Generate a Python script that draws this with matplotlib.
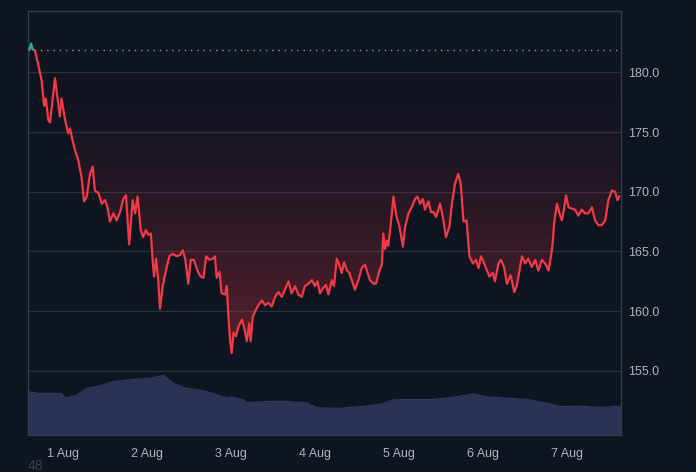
import numpy as np
import pandas as pd
import matplotlib
matplotlib.use("Agg")
import matplotlib.pyplot as plt
import matplotlib.dates as mdates
from matplotlib.patches import Polygon, Rectangle
from matplotlib.colors import ListedColormap

# ---------------- data ----------------
start_date = "2024-08-01"
baseline_price = 181.9

price_hours = [
    -9.6, -9.1, -8.7, -8.0, -7.1, -6.1, -5.4, -4.9, -4.2, -3.7, -3.2, -2.3, -1.6, -0.9, -0.4,
    0.6, 1.5, 2.0, 2.5, 3.4, 4.4, 4.9, 5.3, 6.0, 6.8, 7.7, 8.5, 9.1, 10.1, 11.1, 12.0, 12.7,
    13.4, 14.4, 15.3, 16.3, 17.2, 18.0, 18.9, 19.9, 20.6, 21.3, 22.2, 22.9, 23.7, 24.4, 25.1,
    25.6, 26.0, 26.6, 27.2, 27.7, 28.5, 29.4, 30.4, 31.3, 32.5, 33.4, 34.2, 34.9, 35.8, 36.5,
    37.4, 38.4, 39.3, 40.1, 40.9, 41.8, 42.8, 43.4, 43.9, 44.7, 45.3, 46.3, 46.8, 47.2, 47.7,
    48.2, 48.7, 49.4, 50.1, 51.1, 51.7, 52.5, 53.2, 53.6, 54.2, 54.9, 55.8, 56.8, 57.7, 58.7,
    59.6, 60.6, 61.5, 62.5, 63.4, 64.4, 65.3, 66.3, 67.2, 68.2, 69.1, 70.1, 71.1, 72.0, 72.7,
    73.4, 74.2, 75.1, 75.8, 76.8, 77.4, 78.2, 78.9, 79.6, 80.3, 81.1, 81.8, 82.5, 83.4, 84.4,
    85.3, 86.3, 86.9, 87.7, 88.7, 89.4, 90.4, 91.1, 91.5, 92.0, 92.5, 92.9, 93.6, 94.4, 95.2,
    96.1, 97.1, 97.7, 98.7, 99.6, 100.6, 101.2, 102.0, 102.8, 103.4, 104.4, 105.1, 105.8,
    106.6, 107.7, 108.5, 109.4, 110.4, 111.1, 112.0, 112.9, 113.6, 114.4, 115.3, 116.1, 117.1,
    118.0, 118.7, 119.4, 120.3, 121.1, 121.8, 122.8, 123.4, 124.4, 125.1, 126.0, 126.8, 127.9,
    128.9, 129.6, 130.4, 131.1, 132.0, 132.9, 133.9, 134.9, 135.8, 136.8, 137.7, 138.7, 139.3,
    139.9, 140.3, 141.1, 141.8, 142.5, 143.1, 143.7, 144.4, 145.3, 146.3, 147.2, 148.2, 149.1,
    150.1, 151.1, 152.0, 152.9, 153.9, 154.9, 155.8, 156.8, 157.7, 158.4, 158.9,
]
price_values = [
    181.9, 182.4, 181.95, 181.8, 180.7, 179.3, 177.2, 177.8, 176.0, 175.8, 177.1, 179.5, 177.9, 176.3, 177.8,
    176.0, 174.9, 175.3, 174.6, 173.5, 172.6, 171.8, 171.2, 169.2, 169.6, 171.5, 172.1, 170.1, 169.9, 169.0, 169.3, 168.7,
    167.5, 168.2, 167.6, 168.3, 169.4, 169.7, 165.6, 169.3, 168.2, 169.6, 166.8, 166.2, 166.8, 166.4, 166.5,
    164.3, 162.9, 164.4, 162.6, 160.2, 162.1, 163.4, 164.6, 164.8, 164.6, 164.7, 165.1, 164.4, 162.3, 164.3,
    164.3, 163.4, 162.9, 162.8, 164.6, 164.3, 164.4, 164.6, 162.8, 163.3, 161.5, 161.4, 162.1, 159.8, 157.6,
    156.5, 158.2, 157.9, 158.7, 159.3, 158.7, 157.5, 159.0, 157.5, 159.5, 160.0, 160.5, 160.9, 160.5, 160.7,
    160.4, 161.2, 161.6, 161.2, 161.8, 162.5, 161.5, 162.1, 161.4, 161.2, 162.1, 162.3, 162.6, 162.1, 162.5,
    161.5, 161.9, 162.2, 161.4, 162.6, 162.1, 164.4, 163.9, 163.2, 164.1, 163.4, 163.2, 162.6, 161.8, 162.6,
    163.6, 163.9, 163.3, 162.6, 162.3, 162.3, 163.4, 163.9, 166.5, 165.2, 165.9, 165.5, 167.2, 169.6, 168.0,
    167.1, 165.4, 167.0, 168.2, 168.7, 169.4, 169.6, 169.0, 169.4, 168.5, 169.2, 168.3, 168.3,
    167.9, 169.0, 167.9, 166.2, 167.1, 169.0, 170.7, 171.5, 170.7, 167.5, 167.6, 164.6, 164.0,
    164.3, 163.6, 164.6, 164.0, 163.4, 162.9, 163.2, 162.5, 164.0, 164.3, 163.7, 162.3, 163.0,
    161.6, 162.1, 163.4, 164.6, 164.0, 164.4, 163.7, 164.3, 163.4, 164.3, 164.0, 163.4, 164.4,
    165.7, 167.4, 169.0, 168.2, 167.6, 168.5, 169.7, 168.7, 168.6, 168.5, 168.0, 168.5, 168.2,
    168.2, 168.7, 167.6, 167.2, 167.2, 167.6, 169.3, 170.1, 170.0, 169.3, 169.6,
]

volume_hours = [
    -10.0, -6.6, -0.4, 0.6, 3.9, 6.8, 10.6, 14.4, 20.1, 24.9, 28.7, 31.5, 35.3, 39.1, 42.9,
    46.8, 48.2, 51.5, 52.5, 58.2, 63.9, 69.6, 72.5, 79.1, 84.9, 90.6, 94.4, 100.1, 105.8,
    111.5, 117.2, 121.1, 126.8, 132.5, 138.2, 142.0, 147.7, 153.4, 159.4,
]
volume_values = [
    10.2, 9.8, 9.8, 8.7, 9.4, 11.0, 11.6, 12.6, 13.1, 13.4, 14.1, 12.2, 11.0, 10.6, 9.8,
    8.7, 9.0, 8.3, 7.6, 7.9, 7.9, 7.6, 6.4, 6.3, 6.7, 7.2, 8.3, 8.4, 8.4,
    8.9, 9.7, 9.0, 8.7, 8.4, 7.5, 6.7, 6.8, 6.5, 6.8,
]

y_ticks = [155, 160, 165, 170, 175, 180]
x_tick_days = ["2024-08-01", "2024-08-02", "2024-08-03", "2024-08-04",
               "2024-08-05", "2024-08-06", "2024-08-07"]

# ---------------- styling ----------------
BG = "#0e1420"
GRID = "#2a303d"
SPINE = "#363c49"
TEXT = "#aeb3be"
RED = "#f03a47"
GREEN = "#26b39a"
VOL = "#2b3254"

plt.rcParams["font.family"] = ["Liberation Sans", "DejaVu Sans"]

t0 = pd.Timestamp(start_date)
tx = mdates.date2num(t0 + pd.to_timedelta(price_hours, unit="h"))
px = np.array(price_values)
vx = mdates.date2num(t0 + pd.to_timedelta(volume_hours, unit="h"))
vv = np.array(volume_values)

xmin = mdates.date2num(t0 + pd.Timedelta(hours=-10.0))
xmax = mdates.date2num(t0 + pd.Timedelta(hours=159.4))
ymin, ymax = 149.64, 185.13

fig = plt.figure(figsize=(6.96, 4.72), dpi=100, facecolor=BG)
ax = fig.add_axes([28 / 696, 37 / 472, 593 / 696, 424 / 472])
ax.set_facecolor(BG)

# volume on twin axis
axv = ax.twinx()
axv.set_ylim(0, 100)
axv.fill_between(vx, 0, vv, color=VOL, lw=0, zorder=1)
axv.plot(vx, vv, color="#323a60", lw=0.8, zorder=1)
axv.set_yticks([])
for s in axv.spines.values():
    s.set_visible(False)
axv.set_zorder(0)
ax.set_zorder(1)
ax.patch.set_visible(False)
axv.patch.set_facecolor(BG)

ax.set_xlim(xmin, xmax)
ax.set_ylim(ymin, ymax)
axv.set_xlim(xmin, xmax)

# grid
for y in y_ticks:
    ax.axhline(y, color=GRID, lw=1.0, zorder=0.5)

# gradient fill between baseline and price (below baseline): faint at baseline, stronger lower down
f = np.linspace(0, 1, 256)
rgba = np.zeros((256, 4))
rgba[:, 0], rgba[:, 1], rgba[:, 2] = 0.94, 0.23, 0.28
rgba[:, 3] = 0.33 * f ** 1.5
cmap = ListedColormap(rgba)
grad = f.reshape(-1, 1)
low = float(px.min())
im = ax.imshow(grad, extent=[xmin, xmax, low, baseline_price], aspect="auto",
               cmap=cmap, origin="upper", zorder=1, interpolation="bilinear")
verts = [(tx[0], baseline_price)] + [(a, min(b, baseline_price)) for a, b in zip(tx, px)] + [(tx[-1], baseline_price)]
poly = Polygon(verts, closed=True, transform=ax.transData, facecolor="none", edgecolor="none")
ax.add_patch(poly)
im.set_clip_path(poly)

# baseline dotted
ax.axhline(baseline_price, color="#9aa0ab", lw=1.0, ls=(0, (1, 3.5)), zorder=2)

# price line, red below baseline, green above
l1, = ax.plot(tx, px, color=RED, lw=1.6, zorder=3, solid_joinstyle="round")
l1.set_clip_path(Rectangle((xmin, ymin), xmax - xmin, baseline_price - ymin, transform=ax.transData))
l2, = ax.plot(tx, px, color=GREEN, lw=1.6, zorder=3, solid_joinstyle="round")
l2.set_clip_path(Rectangle((xmin, baseline_price), xmax - xmin, ymax - baseline_price, transform=ax.transData))
ax.fill_between(tx, baseline_price, np.maximum(px, baseline_price), color=GREEN, alpha=0.35, lw=0, zorder=2)

# axes styling
for s in ax.spines.values():
    s.set_color(SPINE)
    s.set_linewidth(1.0)
ax.yaxis.tick_right()
ax.set_yticks(y_ticks)
ax.set_yticklabels([f"{v:.1f}" for v in y_ticks])
ax.set_xticks(mdates.date2num(pd.to_datetime(x_tick_days)))
ax.xaxis.set_major_formatter(mdates.DateFormatter("%-d %b"))
ax.tick_params(axis="both", length=0, colors=TEXT, labelsize=9)
ax.tick_params(axis="y", pad=5)
ax.tick_params(axis="x", pad=9)

fig.text(28 / 696, 1 - 459 / 472, "48", color="#3b414d", fontsize=10, va="top", ha="left")

fig.savefig("out.png", dpi=100, facecolor=BG)
